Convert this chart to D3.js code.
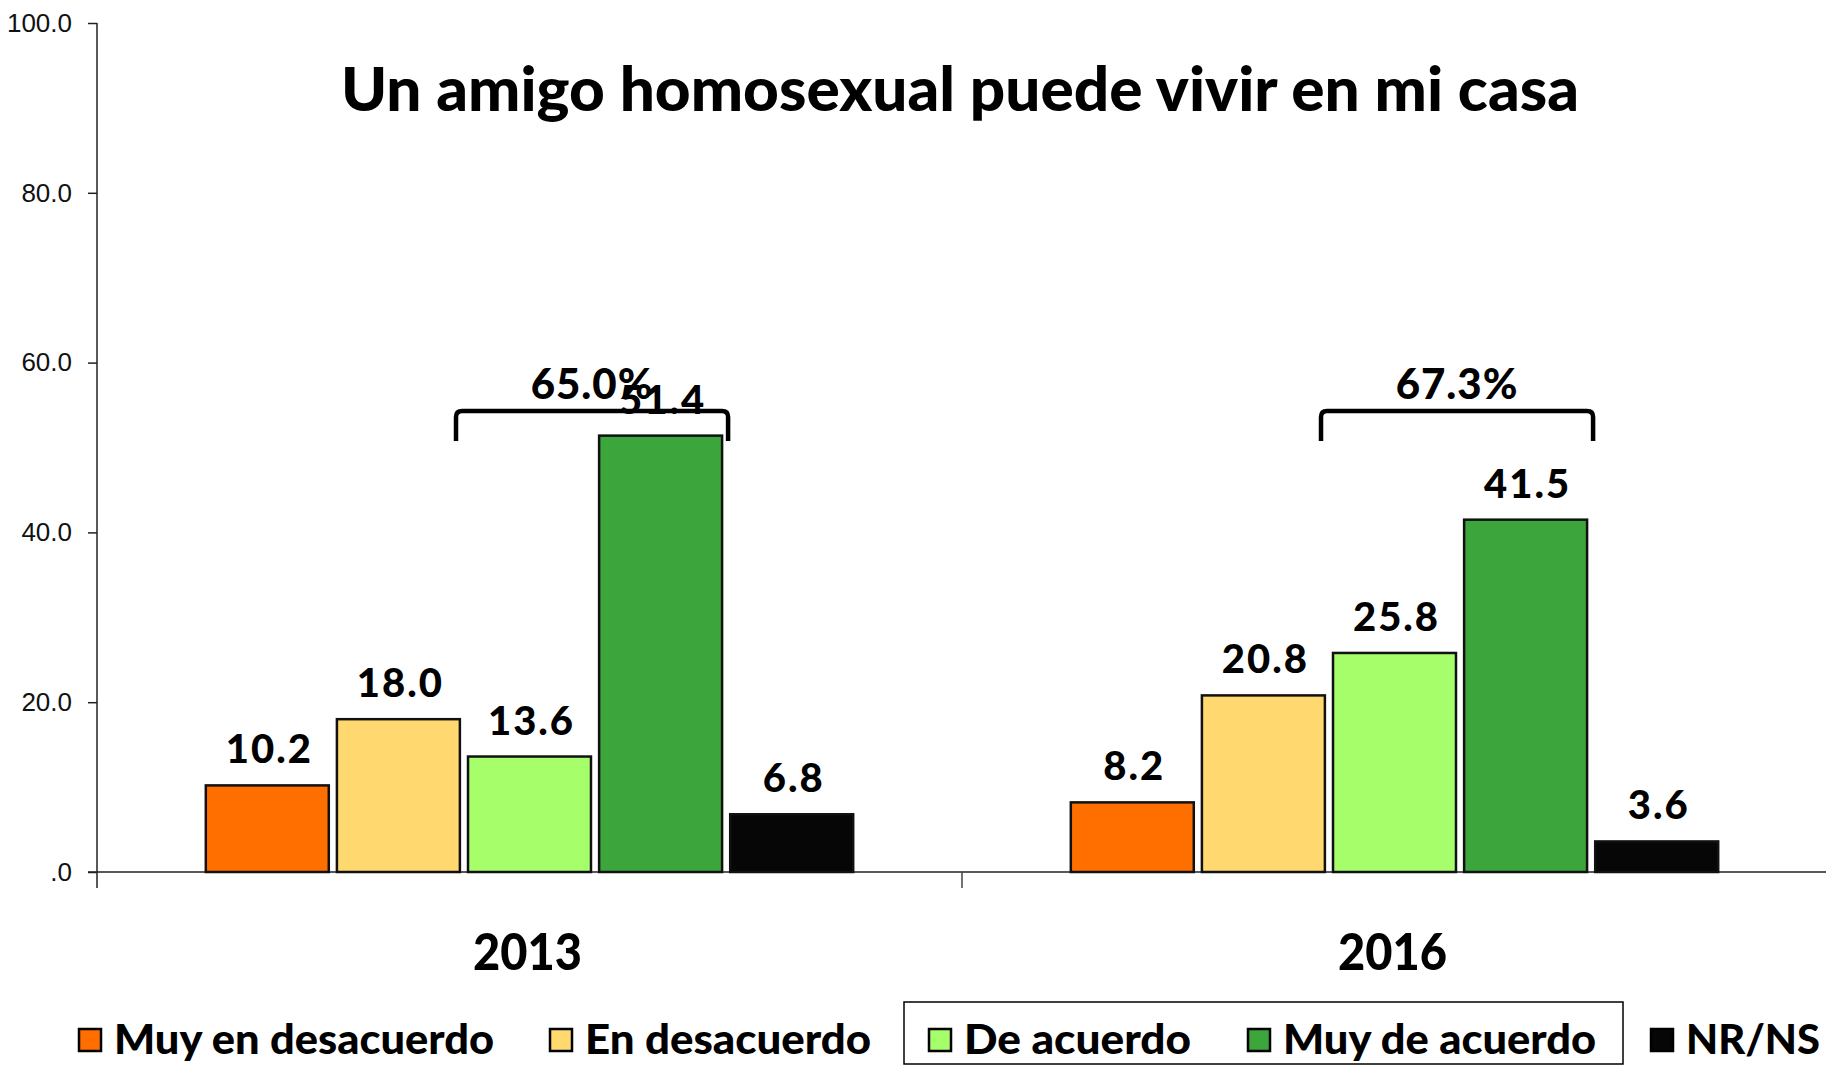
<!DOCTYPE html>
<html>
<head>
<meta charset="utf-8">
<script src="https://cdn.jsdelivr.net/npm/d3@7"></script>
<style>
  body { margin: 0; background: #fff; }
  svg text { font-family: Lato, "Open Sans", sans-serif; }
</style>
</head>
<body>
<div id="chart"></div>
<script>
// data
const categories = ["2013", "2016"];
const series = ["Muy en desacuerdo", "En desacuerdo", "De acuerdo", "Muy de acuerdo", "NR/NS"];
const seriesColors = ["#FF6F00", "#FFD970", "#A6FF6A", "#3CA63C", "#060606"];
const values2013 = [10.2, 18.0, 13.6, 51.4, 6.8];
const values2016 = [8.2, 20.8, 25.8, 41.5, 3.6];
const agreeTotals = ["65.0%", "67.3%"];
const yTicks = [0, 20, 40, 60, 80, 100];

function drawGraph() {
    var width = 1826, height = 1067;
    var svg = d3.select("#chart").append("svg")
        .attr("width", width)
        .attr("height", height);

    var valuesByYear = [values2013, values2016];

    var x0 = d3.scaleBand()
        .domain(categories)
        .range([97, 1827]);

    var x1 = d3.scaleBand()
        .domain(series)
        .range([0, x0.bandwidth()])
        .paddingInner(0.062)
        .paddingOuter(0.83);

    var y = d3.scaleLinear()
        .domain([0, 100])
        .range([872, 23]);

    var color = d3.scaleOrdinal().domain(series).range(seriesColors);

    // title
    svg.append("text")
        .attr("x", 960)
        .attr("y", 111)
        .attr("text-anchor", "middle")
        .attr("font-size", "60px")
        .attr("font-weight", 900)
        .attr("textLength", 1238)
        .attr("lengthAdjust", "spacingAndGlyphs")
        .text("Un amigo homosexual puede vivir en mi casa");

    // y axis
    var yAxis = svg.append("g")
        .attr("transform", "translate(97,0)")
        .call(d3.axisLeft(y)
            .tickValues(yTicks)
            .tickSize(9)
            .tickSizeOuter(0)
            .tickPadding(16)
            .tickFormat(d => d === 0 ? ".0" : d.toFixed(1)));
    yAxis.select(".domain").remove();
    yAxis.selectAll("line").attr("stroke", "#222").attr("stroke-width", 1.5);
    yAxis.selectAll("text")
        .attr("font-size", "26px")
        .attr("fill", "#111")
        .style("font-family", "'Liberation Sans', Arial, sans-serif");

    svg.append("line")
        .attr("x1", 97).attr("x2", 97)
        .attr("y1", y(100)).attr("y2", y(0) + 16)
        .attr("stroke", "#222").attr("stroke-width", 1.5);

    // x axis
    svg.append("line")
        .attr("x1", 88).attr("x2", width)
        .attr("y1", y(0)).attr("y2", y(0))
        .attr("stroke", "#222").attr("stroke-width", 1.5);

    svg.selectAll(".xtick")
        .data(categories.slice(1))
        .enter().append("line")
        .attr("class", "xtick")
        .attr("x1", d => x0(d)).attr("x2", d => x0(d))
        .attr("y1", y(0)).attr("y2", y(0) + 16)
        .attr("stroke", "#444").attr("stroke-width", 1.5);

    svg.selectAll(".xlabel")
        .data(categories)
        .enter().append("text")
        .attr("class", "xlabel")
        .attr("x", d => x0(d) + x0.bandwidth() / 2 - 2)
        .attr("y", 970)
        .attr("text-anchor", "middle")
        .attr("font-size", "52px")
        .attr("font-weight", 900)
        .attr("textLength", 109)
        .attr("lengthAdjust", "spacingAndGlyphs")
        .text(d => d);

    // bars
    var groups = svg.selectAll(".year")
        .data(categories)
        .enter().append("g")
        .attr("class", "year")
        .attr("transform", d => "translate(" + x0(d) + ",0)");

    groups.selectAll("rect")
        .data((d, i) => series.map((s, j) => ({ s: s, v: valuesByYear[i][j] })))
        .enter().append("rect")
        .attr("x", d => x1(d.s))
        .attr("y", d => y(d.v))
        .attr("width", x1.bandwidth())
        .attr("height", d => y(0) - y(d.v))
        .attr("fill", d => color(d.s))
        .attr("stroke", "#111")
        .attr("stroke-width", 2.5);

    groups.selectAll(".val")
        .data((d, i) => series.map((s, j) => ({ s: s, v: valuesByYear[i][j] })))
        .enter().append("text")
        .attr("class", "val")
        .attr("x", d => x1(d.s) + x1.bandwidth() / 2 + 2)
        .attr("y", d => y(d.v) - 22)
        .attr("text-anchor", "middle")
        .attr("font-size", "40px")
        .attr("font-weight", 900)
        .attr("letter-spacing", "2px")
        .text(d => d.v.toFixed(1));

    // brackets over the "agree" bars
    groups.append("path")
        .attr("d", function () {
            var l = x1("De acuerdo") - 12;
            var r = x1("Muy de acuerdo") + x1.bandwidth() + 6;
            var t = 411, b = 441, rr = 6;
            return "M" + l + "," + b + "V" + (t + rr) + "Q" + l + "," + t + " " + (l + rr) + "," + t +
                "H" + (r - rr) + "Q" + r + "," + t + " " + r + "," + (t + rr) + "V" + b;
        })
        .attr("fill", "none")
        .attr("stroke", "#000")
        .attr("stroke-width", 4.5);

    groups.append("text")
        .attr("x", (x1("De acuerdo") - 12 + x1("Muy de acuerdo") + x1.bandwidth() + 6) / 2)
        .attr("y", 399)
        .attr("text-anchor", "middle")
        .attr("font-size", "42px")
        .attr("font-weight", 900)
        .attr("letter-spacing", "1px")
        .text((d, i) => agreeTotals[i]);

    // legend
    var legendX = [79, 550, 929, 1248, 1651];
    var legendW = [380, 286, 227, 313, 134];

    svg.append("rect")
        .attr("x", 904).attr("y", 1002)
        .attr("width", 719).attr("height", 62)
        .attr("fill", "none")
        .attr("stroke", "#000")
        .attr("stroke-width", 1.5);

    var legend = svg.selectAll(".legend")
        .data(series)
        .enter().append("g")
        .attr("class", "legend")
        .attr("transform", (d, i) => "translate(" + legendX[i] + ",1029)");

    legend.append("rect")
        .attr("width", 22).attr("height", 22)
        .attr("fill", d => color(d))
        .attr("stroke", "#000")
        .attr("stroke-width", 2.5);

    legend.append("text")
        .attr("x", 35)
        .attr("y", 25)
        .attr("font-size", "41px")
        .attr("font-weight", 900)
        .attr("textLength", (d, i) => legendW[i])
        .attr("lengthAdjust", "spacingAndGlyphs")
        .text(d => d);
}

window.onload = drawGraph;
</script>
</body>
</html>
